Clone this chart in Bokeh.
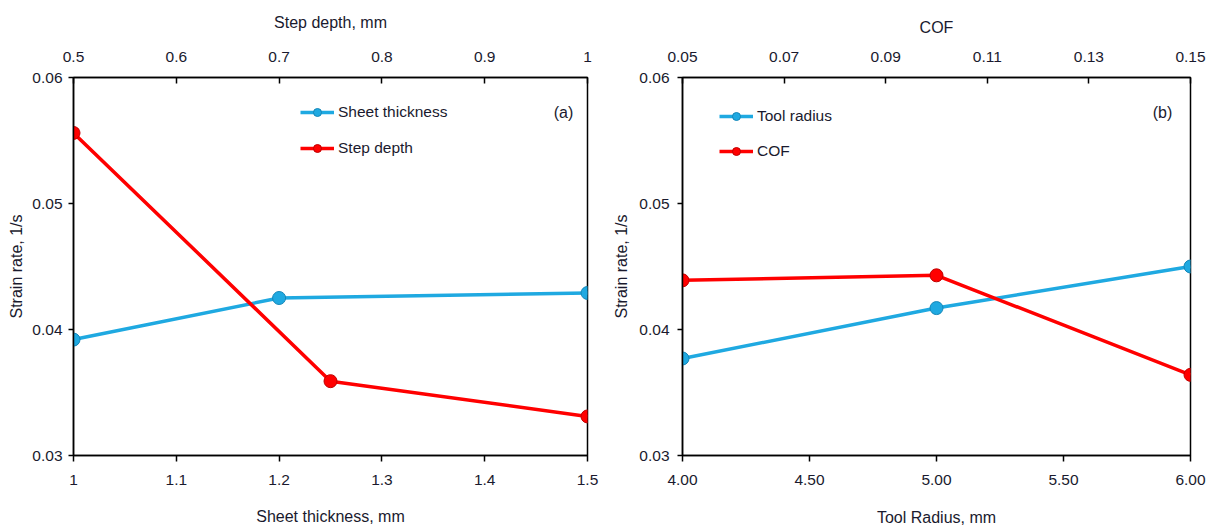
from bokeh.plotting import figure
from bokeh.layouts import row
from bokeh.models import (Range1d, LinearAxis, FixedTicker, CustomJSTickFormatter,
                          Legend, LegendItem, Label)
from bokeh.embed import file_html
from bokeh.resources import INLINE

# ---- data (a) ----
thickness_x = [1.0, 1.2, 1.5]
thickness_y = [0.0392, 0.0425, 0.0429]
stepdepth_x = [0.5, 0.75, 1.0]
stepdepth_y = [0.0556, 0.0359, 0.0331]
# ---- data (b) ----
radius_x = [4.0, 5.0, 6.0]
radius_y = [0.0377, 0.0417, 0.0450]
cof_x = [0.05, 0.10, 0.15]
cof_y = [0.0439, 0.0443, 0.0364]

ticks_a_bottom = [1.0, 1.1, 1.2, 1.3, 1.4, 1.5]
ticks_a_top = [0.5, 0.6, 0.7, 0.8, 0.9, 1.0]
ticks_b_bottom = [4.0, 4.5, 5.0, 5.5, 6.0]
ticks_b_top = [0.05, 0.07, 0.09, 0.11, 0.13, 0.15]
ticks_y = [0.03, 0.04, 0.05, 0.06]

FONT = "Liberation Sans"
BLUE = "#1FA9E1"
BLUE_EDGE = "#1486B8"
RED = "#FF0000"
RED_EDGE = "#C00000"
TXT = "#1a1a2e"

fmt_plain = CustomJSTickFormatter(code="return String(Math.round(tick*100)/100);")
fmt_2 = CustomJSTickFormatter(code="return tick.toFixed(2);")


def style_axis(ax, tick_in, tick_out, standoff, label_standoff):
    ax.axis_line_color = "black"
    ax.axis_line_width = 1.5
    ax.major_tick_line_color = "black"
    ax.major_tick_line_width = 1.5
    ax.major_tick_in = tick_in
    ax.major_tick_out = tick_out
    ax.minor_tick_line_color = None
    ax.major_label_text_font = FONT
    ax.major_label_text_font_size = "15.5px"
    ax.major_label_text_color = TXT
    ax.major_label_standoff = standoff
    ax.axis_label_text_font = FONT
    ax.axis_label_text_font_size = "16px"
    ax.axis_label_text_font_style = "normal"
    ax.axis_label_text_color = TXT
    ax.axis_label_standoff = label_standoff


def make_panel(width, bl, br, bt, bb, xr, top_r, xb_ticks, xt_ticks, xb_fmt, xt_fmt,
               xlabel, toplabel, y_standoffs, top_standoffs, bot_standoffs,
               bx, by, tx, ty, bname, tname, legend_loc, spacing, tag, tag_xy):
    p = figure(width=width, height=531, output_backend="svg", toolbar_location=None,
               x_range=Range1d(*xr), y_range=Range1d(0.03, 0.06),
               min_border_left=bl, min_border_right=br, min_border_top=bt,
               min_border_bottom=bb, x_axis_location=None, y_axis_location=None)
    p.extra_x_ranges = {"top": Range1d(*top_r)}
    p.xgrid.visible = False
    p.ygrid.visible = False
    p.outline_line_color = "black"
    p.outline_line_width = 1.5
    p.background_fill_color = "white"
    p.border_fill_color = "white"

    yax = LinearAxis(ticker=FixedTicker(ticks=ticks_y), formatter=fmt_2,
                     axis_label="Strain rate, 1/s")
    style_axis(yax, 0, 5, *y_standoffs)
    p.add_layout(yax, "left")

    xax = LinearAxis(ticker=FixedTicker(ticks=xb_ticks), formatter=xb_fmt, axis_label=xlabel)
    style_axis(xax, 0, 6, *bot_standoffs)
    p.add_layout(xax, "below")

    tax = LinearAxis(x_range_name="top", ticker=FixedTicker(ticks=xt_ticks),
                     formatter=xt_fmt, axis_label=toplabel)
    style_axis(tax, 6, 0, *top_standoffs)
    p.add_layout(tax, "above")

    l1 = p.line(bx, by, line_color=BLUE, line_width=3.5)
    s1 = p.scatter(bx, by, size=13, fill_color=BLUE, line_color=BLUE_EDGE, line_width=1)
    l2 = p.line(tx, ty, line_color=RED, line_width=3.5, x_range_name="top")
    s2 = p.scatter(tx, ty, size=13, fill_color=RED, line_color=RED_EDGE, line_width=1,
                   x_range_name="top")

    leg = Legend(items=[LegendItem(label=bname, renderers=[l1, s1]),
                        LegendItem(label=tname, renderers=[l2, s2])],
                 location=legend_loc, padding=0, margin=0, spacing=spacing,
                 glyph_width=34, glyph_height=20, label_height=20,
                 label_standoff=4, border_line_color=None,
                 background_fill_alpha=0,
                 label_text_font=FONT, label_text_font_size="15.5px",
                 label_text_color=TXT)
    p.add_layout(leg, "center")

    p.add_layout(Label(x=tag_xy[0], y=tag_xy[1], text=tag, text_font=FONT,
                       text_font_size="16px", text_color=TXT, text_align="center",
                       text_baseline="middle"))
    return p


pa = make_panel(610, 73, 23, 74, 76, (1.0, 1.5), (0.5, 1.0),
                ticks_a_bottom, ticks_a_top, fmt_plain, fmt_plain,
                "Sheet thickness, mm", "Step depth, mm", (6, 4), (16, 18), (13, 20),
                thickness_x, thickness_y, stepdepth_x, stepdepth_y,
                "Sheet thickness", "Step depth", (227, 297), 16,
                "(a)", (1.4767, 0.0572))

pb = make_panel(605, 69, 25, 77, 74, (4.0, 6.0), (0.05, 0.15),
                ticks_b_bottom, ticks_b_top, fmt_2, fmt_2,
                "Tool Radius, mm", "COF", (8, 6), (16, 13), (13, 21),
                radius_x, radius_y, cof_x, cof_y,
                "Tool radius", "COF", (37, 294), 15,
                "(b)", (5.89, 0.0572))

layout = row(pa, pb)
open("out.html", "w").write(file_html(layout, INLINE))
